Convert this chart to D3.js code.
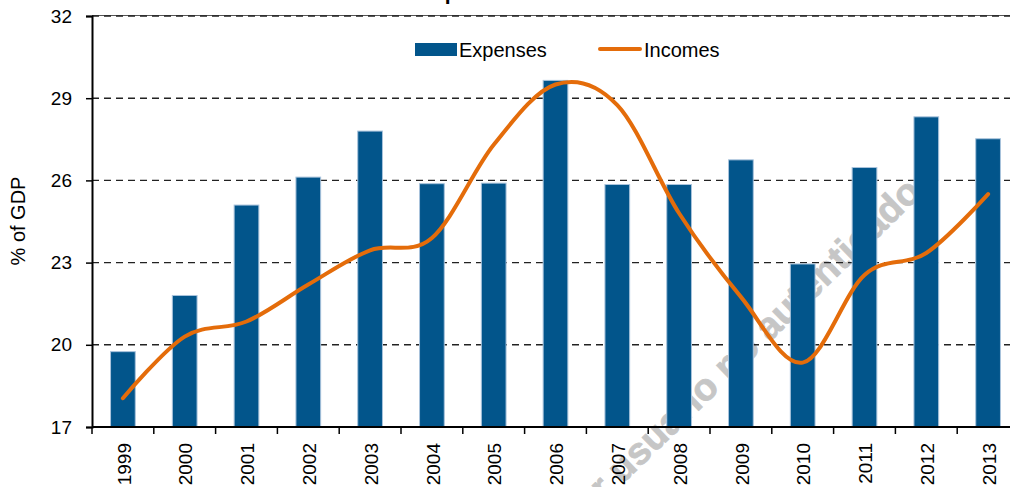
<!DOCTYPE html>
<html>
<head>
<meta charset="utf-8">
<script src="https://cdn.jsdelivr.net/npm/d3@7/dist/d3.min.js"></script>
<style>
  html, body { margin: 0; padding: 0; background: #fff; overflow: hidden; }
  svg { display: block; font-family: "Liberation Sans", Arial, sans-serif; }
</style>
</head>
<body>
<svg id="chart" width="1010" height="487"></svg>
<script>
// Fiscal series, % of GDP
const years = ["1999","2000","2001","2002","2003","2004","2005","2006","2007","2008","2009","2010","2011","2012","2013"];
const expenses = [19.75, 21.8, 25.1, 26.12, 27.8, 25.88, 25.9, 29.65, 25.85, 25.85, 26.75, 22.95, 26.47, 28.32, 27.52];
const incomes  = [18.05, 20.3, 20.85, 22.2, 23.45, 23.9, 27.3, 29.5, 28.75, 24.8, 21.75, 19.35, 22.55, 23.35, 25.5];
const yTicks = [17, 20, 23, 26, 29, 32];
const titleText = "Expenses and Incomes";
const yTitle = "% of GDP";
const watermark = "por usuario no autenticado";

const svg = d3.select("#chart");
const plotLeft = 92, plotRight = 1019, plotTop = 16, plotBottom = 427;

const x = d3.scaleBand().domain(years).range([plotLeft, plotRight]).paddingInner(0.6).paddingOuter(0.3);
const step = x.step();
const y = d3.scaleLinear().domain([17, 32]).range([plotBottom, plotTop]);

// Title (sits above the visible area)
svg.append("text")
  .attr("x", 419).attr("y", 0)
  .attr("font-size", 21).attr("font-weight", "bold")
  .attr("fill", "#000")
  .text(titleText);

// Watermark behind the data
svg.append("text")
  .attr("transform", "translate(923,194) rotate(-44)")
  .attr("text-anchor", "end")
  .attr("font-size", 38).attr("font-weight", "bold")
  .attr("fill", "#c6c6c6")
  .attr("stroke", "#c6c6c6").attr("stroke-width", 0.8)
  .text(watermark);

// Top border of plot
svg.append("line")
  .attr("x1", plotLeft).attr("x2", 1010)
  .attr("y1", plotTop - 0.5).attr("y2", plotTop - 0.5)
  .attr("stroke", "#555").attr("stroke-width", 1);

// Dashed gridlines
svg.append("g")
  .selectAll("line")
  .data(yTicks.filter(d => d > 17))
  .join("line")
  .attr("x1", plotLeft).attr("x2", 1010)
  .attr("y1", d => y(d)).attr("y2", d => y(d))
  .attr("stroke", "#222").attr("stroke-width", 1.4)
  .attr("stroke-dasharray", "7,5");

// Expense bars
svg.append("g")
  .selectAll("rect")
  .data(years)
  .join("rect")
  .attr("x", d => x(d))
  .attr("width", x.bandwidth())
  .attr("y", (d, i) => y(expenses[i]))
  .attr("height", (d, i) => plotBottom - y(expenses[i]))
  .attr("fill", "#02558b")
  .attr("stroke", "#a9c3dc").attr("stroke-width", 1);

// Income line, smoothed
const line = d3.line()
  .x((d, i) => x(years[i]) + x.bandwidth() / 2)
  .y(d => y(d))
  .curve(d3.curveCardinal.tension(0));
svg.append("path")
  .datum(incomes)
  .attr("d", line)
  .attr("fill", "none")
  .attr("stroke", "#e46c0a")
  .attr("stroke-width", 4)
  .attr("stroke-linecap", "round")
  .attr("stroke-linejoin", "round");

// Y axis
const yAxis = d3.axisLeft(y).tickValues(yTicks).tickSize(6).tickPadding(14).tickFormat(d3.format("d"));
const gy = svg.append("g").attr("transform", `translate(${plotLeft},0)`).call(yAxis);
gy.select(".domain").attr("stroke", "#000").attr("stroke-width", 2);
gy.selectAll(".tick line").attr("stroke", "#000").attr("stroke-width", 1.5);
gy.selectAll(".tick text").attr("font-size", 19).attr("fill", "#000")
  .attr("font-family", "Liberation Sans, Arial, sans-serif");

// X axis: tick marks on category boundaries, rotated year labels
const gx = svg.append("g").attr("transform", `translate(0,${plotBottom})`);
gx.append("line")
  .attr("x1", plotLeft).attr("x2", 1010)
  .attr("stroke", "#000").attr("stroke-width", 2);
gx.selectAll("line.tk")
  .data(years)
  .join("line")
  .attr("class", "tk")
  .attr("x1", d => x(d) - step * 0.3).attr("x2", d => x(d) - step * 0.3)
  .attr("y1", 0).attr("y2", 7)
  .attr("stroke", "#000").attr("stroke-width", 1.5);
gx.selectAll("text")
  .data(years)
  .join("text")
  .attr("transform", d => `translate(${x(d) + x.bandwidth() / 2 + 1},16) rotate(-90)`)
  .attr("text-anchor", "end")
  .attr("dy", "0.35em")
  .attr("font-size", 19)
  .attr("fill", "#000")
  .text(d => d);

// Y axis title
svg.append("text")
  .attr("transform", "translate(25,221) rotate(-90)")
  .attr("text-anchor", "middle")
  .attr("font-size", 20)
  .attr("fill", "#000")
  .text(yTitle);

// Legend
const lg = svg.append("g");
lg.append("rect").attr("x", 415).attr("y", 43).attr("width", 42).attr("height", 13).attr("fill", "#02558b");
lg.append("text").attr("x", 459).attr("y", 57).attr("font-size", 20).attr("fill", "#000").text("Expenses");
lg.append("line").attr("x1", 600).attr("x2", 640).attr("y1", 49).attr("y2", 49)
  .attr("stroke", "#e46c0a").attr("stroke-width", 4).attr("stroke-linecap", "round");
lg.append("text").attr("x", 644).attr("y", 57).attr("font-size", 20).attr("fill", "#000").text("Incomes");
</script>
</body>
</html>
